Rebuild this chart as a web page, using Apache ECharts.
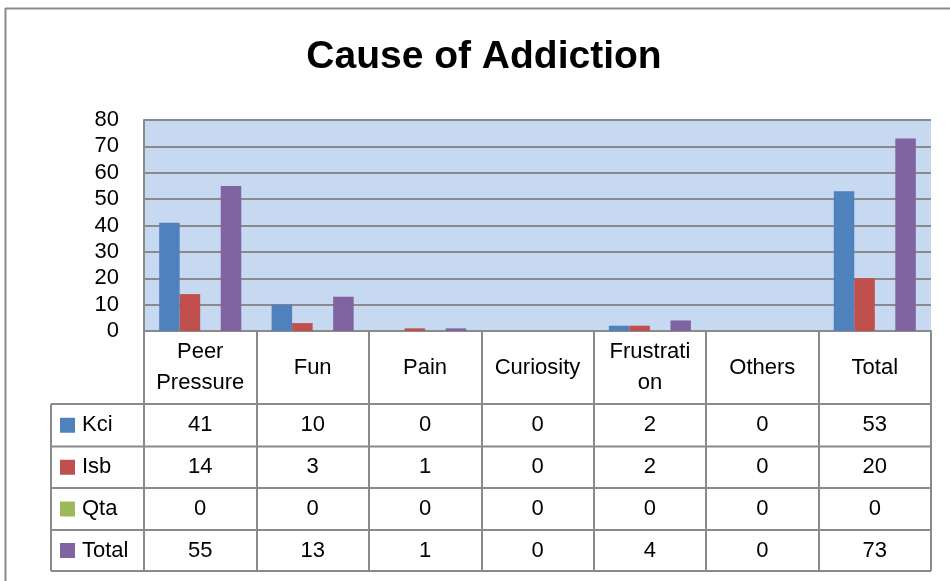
<!DOCTYPE html>
<html><head><meta charset="utf-8">
<script src="https://cdn.jsdelivr.net/npm/echarts@6/dist/echarts.min.js"></script>
<style>html,body{margin:0;padding:0;background:#fff}#c{width:950px;height:581px}</style>
</head><body><div id="c"></div>
<script>
// ---- data ----
const categories = ['Peer\nPressure', 'Fun', 'Pain', 'Curiosity', 'Frustrati\non', 'Others', 'Total'];
const seriesNames = ['Kci', 'Isb', 'Qta', 'Total'];
const kci   = [41, 10, 0, 0, 2, 0, 53];
const isb   = [14, 3, 1, 0, 2, 0, 20];
const qta   = [0, 0, 0, 0, 0, 0, 0];
const total = [55, 13, 1, 0, 4, 0, 73];
const yMin = 0, yMax = 80, yInterval = 10;
const titleText = 'Cause of Addiction';

// ---- style / layout ----
const colors = ['#4f81bd', '#c0504d', '#9bbb59', '#8064a2'];
const FONT = 'Liberation Sans';
const LINE = '#8a8a8a';
const GRID = { left: 144, right: 19, top: 120, bottom: 250 };
const rowEdges = [404, 446.5, 488, 530, 571];
const tableLeft = 51;
const W = 950, H = 581;

const seriesData = [kci, isb, qta, total];
const chart = echarts.init(document.getElementById('c'), null, { renderer: 'canvas' });

chart.setOption({
  animation: false,
  backgroundColor: '#ffffff',
  grid: { left: GRID.left, right: GRID.right, top: GRID.top, bottom: GRID.bottom,
          show: true, backgroundColor: '#c6d9f1', borderWidth: 0, containLabel: false },
  xAxis: {
    type: 'category', data: categories,
    axisLine: { show: true, lineStyle: { color: LINE, width: 2 } },
    axisTick: { show: true, interval: 0, length: rowEdges[4] - (H - GRID.bottom), lineStyle: { color: LINE, width: 2 } },
    axisLabel: { interval: 0, margin: 36.5, verticalAlign: 'middle', color: '#000',
                 fontFamily: FONT, fontSize: 22, lineHeight: 31, align: 'center' },
    splitLine: { show: false }
  },
  yAxis: {
    type: 'value', min: yMin, max: yMax, interval: yInterval,
    axisLine: { show: true, lineStyle: { color: LINE, width: 2 } },
    axisTick: { show: false },
    axisLabel: { color: '#000', fontFamily: FONT, fontSize: 22, margin: 25 },
    splitLine: { show: true, lineStyle: { color: LINE, width: 2 } }
  },
  series: seriesNames.map((n, i) => ({
    name: n, type: 'bar', data: seriesData[i],
    barGap: '0%', barCategoryGap: '27%',
    itemStyle: { color: colors[i] }
  }))
});

// ---- data table + title + frame ----
const gEls = [];
const plotRight = W - GRID.right;
// frame
gEls.push({ type: 'line', shape: { x1: 5.5, y1: 8, x2: 5.5, y2: H }, style: { stroke: '#8a8a8a', lineWidth: 2 } });
gEls.push({ type: 'line', shape: { x1: 5, y1: 8.5, x2: W, y2: 8.5 }, style: { stroke: '#8a8a8a', lineWidth: 2 } });
// title
gEls.push({ type: 'text', x: 484, y: 57,
  style: { text: titleText, fill: '#000', font: 'bold 39px ' + FONT, textAlign: 'center', textVerticalAlign: 'middle' } });
// horizontal table lines
rowEdges.forEach(y => gEls.push({ type: 'line', shape: { x1: tableLeft, y1: y, x2: plotRight, y2: y },
  style: { stroke: LINE, lineWidth: 2 } }));
gEls.push({ type: 'line', shape: { x1: tableLeft, y1: rowEdges[0], x2: tableLeft, y2: rowEdges[4] },
  style: { stroke: LINE, lineWidth: 2 } });
// rows
seriesNames.forEach((n, r) => {
  const yc = (rowEdges[r] + rowEdges[r + 1]) / 2;
  gEls.push({ type: 'rect', shape: { x: 60, y: yc - 7.5, width: 15, height: 15 }, style: { fill: colors[r] } });
  gEls.push({ type: 'text', x: 82, y: yc, style: { text: n, fill: '#000', font: '22px ' + FONT, textAlign: 'left', textVerticalAlign: 'middle' } });
  seriesData[r].forEach((v, c) => {
    const xc = chart.convertToPixel({ xAxisIndex: 0 }, c);
    gEls.push({ type: 'text', x: xc, y: yc, style: { text: String(v), fill: '#000', font: '22px ' + FONT, textAlign: 'center', textVerticalAlign: 'middle' } });
  });
});
chart.setOption({ graphic: { elements: gEls } });
</script>
</body></html>
